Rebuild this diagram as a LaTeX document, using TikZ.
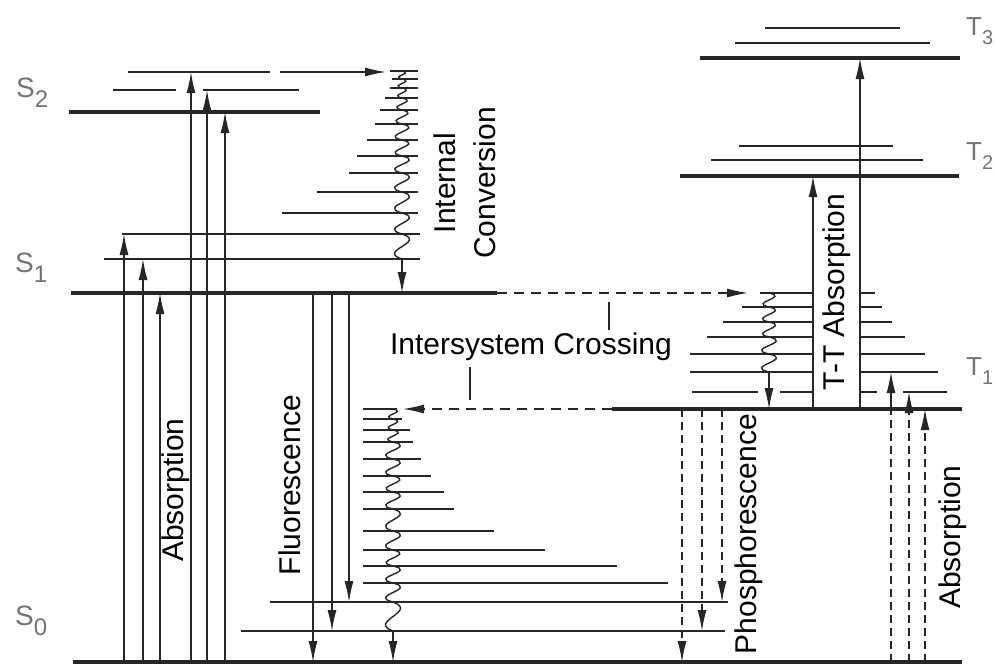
\documentclass[tikz,border=0pt]{standalone}
\usepackage{fontspec}
\setmainfont{Liberation Sans}
\usetikzlibrary{arrows.meta}
\begin{document}
\begin{tikzpicture}
  [x=1pt, y=-1pt,
   level/.style={line width=4pt, black!85},
   vib/.style={line width=1.9pt, black!85},
   trans/.style={line width=1.3pt, black!85, -{Latex[length=21pt,width=9pt]}},
   phos/.style={trans, dash pattern=on 8pt off 5pt},
   isc/.style={trans, dash pattern=on 10pt off 7pt},
   wavy/.style={line width=1.4pt, black!85},
   proc/.style={font=\fontsize{30}{40}\selectfont, inner sep=0pt},
   statelbl/.style={font=\fontsize{28}{30}\selectfont, text=black!55, inner sep=0pt, anchor=base west}]

  \useasboundingbox (0,0) rectangle (995,665);

  % singlet levels
  \draw[level] (73,662) -- (962,662);
  \draw[level] (71,293) -- (497,293);
  \draw[level] (69,112) -- (320,112);
  \draw[vib] (128,72) -- (270,72);
  \draw[vib] (113,90) -- (176,90);
  \draw[vib] (203,90) -- (299,90);
  \draw[vib] (122,234) -- (420,234);
  \draw[vib] (104,259) -- (420,259);
  \foreach \y/\xl in {71/390,79/392,88/390,98/385,110/380,124/375,140/367,156/357,173/349,192/317,213/282}
    \draw[vib] (\xl,\y) -- (418,\y);
  \foreach \y/\xr in {409/397,419/402,430/410,442/413,459/421,476/431,492/444,509/454,531/494,550/545,566/617,583/668}
    \draw[vib] (363,\y) -- (\xr,\y);
  \draw[vib] (270,602) -- (728,602);
  \draw[vib] (241,631) -- (725,631);

  % triplet levels
  \draw[level] (612,409) -- (962,409);
  \draw[level] (680,176) -- (959,176);
  \draw[level] (700,58) -- (960,58);
  \draw[vib] (711,160) -- (923,160);
  \draw[vib] (739,146) -- (893,146);
  \draw[vib] (735,43) -- (930,43);
  \draw[vib] (765,28) -- (900,28);
  \foreach \y/\xl/\xr in {293/760/875,307/742/882,322/723/892,337/707/905,354/690/925,372/690/938} {
    \draw[vib] (\xl,\y) -- (813,\y);
    \draw[vib] (860,\y) -- (\xr,\y);
  }
  \draw[vib] (692,392) -- (758,392);
  \draw[vib] (780,392) -- (813,392);
  \draw[vib] (860,392) -- (877,392);
  \draw[vib] (903,392) -- (947,392);

  % radiative transitions
  \foreach \x/\y in {124/234,143/259,160/293,191/72,207/90,225/112}
    \draw[trans] (\x,662) -- (\x,\y);
  \foreach \x/\y in {313/662,332/631,349/602}
    \draw[trans] (\x,293) -- (\x,\y);
  \foreach \x/\y in {682/662,702/631,722/602}
    \draw[phos] (\x,409) -- (\x,\y);
  \draw[phos, -] (891,662) -- (891,409);
  \draw[phos, -] (909,662) -- (909,409);
  \draw[phos] (925,662) -- (925,409);
  \draw[trans] (891,409) -- (891,372);
  \draw[trans] (909,409) -- (909,392);
  \draw[trans] (813,409) -- (813,176);
  \draw[trans] (860,409) -- (860,58);

  % non-radiative transitions
  \draw[trans] (280,72) -- (386,72);
  \foreach \ya/\yb in {71/79,79/88,88/98,98/110,110/124,124/140,140/156,156/173,173/192,192/213,213/234,234/259} {
    \pgfmathsetmacro\wig{min(26,1.5*(\yb-\ya))}
    \draw[wavy] (402,\ya) .. controls ({402+\wig},{\ya+(\yb-\ya)/3}) and ({402-\wig},{\ya+2*(\yb-\ya)/3}) .. (402,\yb);
  }
  \draw[trans] (402,259) -- (402,293);
  \foreach \ya/\yb in {409/419,419/430,430/442,442/459,459/476,476/492,492/509,509/531,531/550,550/566,566/583,583/602,602/631} {
    \pgfmathsetmacro\wig{min(26,1.5*(\yb-\ya))}
    \draw[wavy] (393,\ya) .. controls ({393+\wig},{\ya+(\yb-\ya)/3}) and ({393-\wig},{\ya+2*(\yb-\ya)/3}) .. (393,\yb);
  }
  \draw[trans] (393,631) -- (393,662);
  \foreach \ya/\yb in {293/307,307/322,322/337,337/354,354/372} {
    \pgfmathsetmacro\wig{min(26,1.5*(\yb-\ya))}
    \draw[wavy] (769,\ya) .. controls ({769+\wig},{\ya+(\yb-\ya)/3}) and ({769-\wig},{\ya+2*(\yb-\ya)/3}) .. (769,\yb);
  }
  \draw[trans] (769,372) -- (769,409);
  \draw[isc] (497,293) -- (748,293);
  \draw[isc] (612,409) -- (403,409);
  \draw[wavy] (609,302) -- (609,330);
  \draw[wavy] (470,367) -- (470,400);

  % labels
  \node[proc, rotate=90] (absS) at (176,490) {Absorption};
  \node[proc, rotate=90] (fluo) at (290,485) {Fluorescence};
  \node[proc, rotate=90, align=center] (ic) at (465,183) {Internal\\Conversion};
  \node[proc] (isc) at (531,347) {Intersystem Crossing};
  \node[proc, rotate=90] (phos) at (749,534) {Phosphorescence};
  \node[proc, rotate=90] (absT) at (953,537) {Absorption};
  \node[proc, rotate=90] (tt) at (837,292) {T-T Absorption};

  \node[statelbl] (s2) at (16,97) {S\raisebox{-10pt}{\fontsize{24}{24}\selectfont 2}};
  \node[statelbl] (s1) at (15,272) {S\raisebox{-10pt}{\fontsize{24}{24}\selectfont 1}};
  \node[statelbl] (s0) at (15,625) {S\raisebox{-10pt}{\fontsize{24}{24}\selectfont 0}};
  \node[statelbl, font=\fontsize{26}{28}\selectfont] (t3) at (966,35) {T\raisebox{-9pt}{\fontsize{20}{20}\selectfont 3}};
  \node[statelbl, font=\fontsize{26}{28}\selectfont] (t2) at (966,160) {T\raisebox{-9pt}{\fontsize{20}{20}\selectfont 2}};
  \node[statelbl, font=\fontsize{26}{28}\selectfont] (t1) at (966,375) {T\raisebox{-9pt}{\fontsize{20}{20}\selectfont 1}};
\end{tikzpicture}
\end{document}
